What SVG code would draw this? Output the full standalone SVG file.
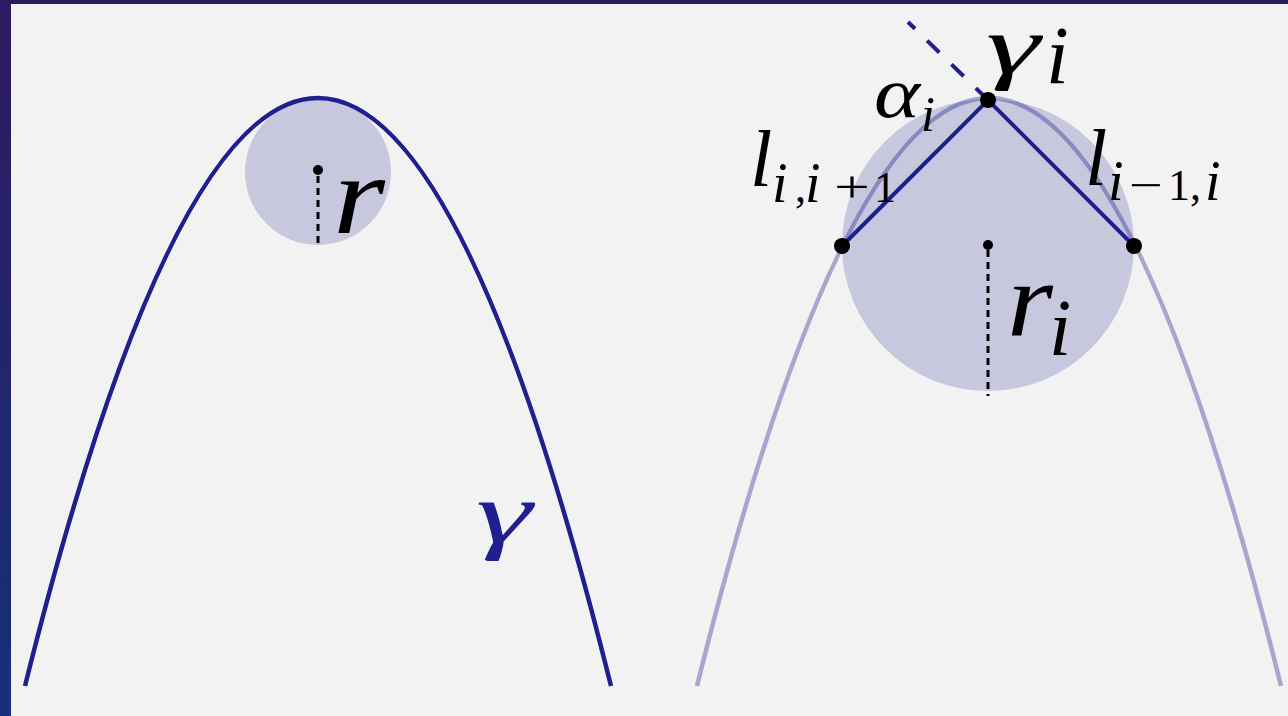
<svg xmlns="http://www.w3.org/2000/svg" width="1288" height="716" viewBox="0 0 1288 716">
<defs>
<linearGradient id="bg" x1="0" y1="0" x2="0" y2="1">
<stop offset="0" stop-color="#2e1a5e"/>
<stop offset="1" stop-color="#16307a"/>
</linearGradient>
<style>
.curve{fill:none;stroke:#1f1f8f;stroke-width:4.5;stroke-linecap:butt}
.faint{fill:none;stroke:#1f1f8f;stroke-opacity:0.36;stroke-width:4.5}
.disk{fill:#1f1f8f;fill-opacity:0.2}
.seg{fill:none;stroke:#1f1f8f;stroke-width:4}
.rad{stroke:#000;stroke-width:3;stroke-dasharray:7 5}
.dot{fill:#000}
.m{font-family:"Liberation Serif","Times New Roman",serif;font-style:italic;fill:#000}
.u{font-family:"Liberation Serif","Times New Roman",serif;font-style:normal;fill:#000;font-size:44px}
</style>
</defs>
<rect x="0" y="0" width="1288" height="716" fill="url(#bg)"/>
<rect x="11" y="4" width="1277" height="712" fill="#f2f2f2"/>

<g id="left-disk">
<circle class="disk" cx="318" cy="172" r="73"/>
<line class="rad" x1="318" y1="176" x2="318" y2="248"/>
<circle class="dot" cx="318" cy="170" r="5"/>
<text class="m" x="333" y="233" font-size="112" textLength="52" lengthAdjust="spacingAndGlyphs">r</text>
</g>
<g id="left-curve">
<path class="curve" d="M25,686 Q318,-490 611,686"/>
<text class="m" x="476" y="542" font-size="86" style="fill:#1f1f8f" textLength="56" lengthAdjust="spacingAndGlyphs">γ</text>
</g>

<g id="right-disk">
<circle class="disk" cx="988" cy="245" r="146"/>
<line class="rad" x1="988" y1="250" x2="988" y2="396"/>
<circle class="dot" cx="988" cy="245" r="5"/>
<text class="m" x="1007" y="335" font-size="106" textLength="46" lengthAdjust="spacingAndGlyphs">r</text>
<text class="m" x="1049" y="355" font-size="80">i</text>
</g>
<g id="right-curve">
<path class="faint" d="M697,686 Q989,-490 1281,686"/>
</g>

<g id="connectors">
<polyline class="seg" points="842,246 988,100 1134,246"/>
<line class="seg" x1="988" y1="100" x2="908" y2="22" stroke-dasharray="17 17"/>
</g>

<g id="vertex-top">
<circle class="dot" cx="988" cy="100" r="8"/>
<text class="m" x="986" y="73" font-size="82" textLength="54" lengthAdjust="spacingAndGlyphs">γ</text>
<text class="m" x="1046" y="83" font-size="82">i</text>
</g>
<g id="vertex-left">
<circle class="dot" cx="842" cy="246" r="8"/>
</g>
<g id="vertex-right">
<circle class="dot" cx="1134" cy="246" r="8"/>
</g>

<g id="label-alpha">
<text class="m" x="874" y="117" font-size="72" textLength="46" lengthAdjust="spacingAndGlyphs">α</text>
<text class="m" x="921" y="131" font-size="50">i</text>
</g>
<g id="label-l-left">
<text class="m" x="750" y="186" font-size="80">l</text>
<text class="m" y="202" font-size="56"><tspan x="772">i</tspan><tspan x="805">i</tspan></text>
<text class="u" x="795" y="202">,</text>
<text class="u" x="874" y="202">1</text>
<text class="u" x="834" y="202" textLength="36" lengthAdjust="spacingAndGlyphs">+</text>
</g>
<g id="label-l-right">
<text class="m" x="1085" y="185" font-size="80">l</text>
<text class="m" y="200" font-size="56"><tspan x="1108">i</tspan><tspan x="1205">i</tspan></text>
<text class="u" x="1129" y="200" textLength="34" lengthAdjust="spacingAndGlyphs">−</text>
<text class="u" x="1168" y="200">1,</text>
</g>
</svg>
